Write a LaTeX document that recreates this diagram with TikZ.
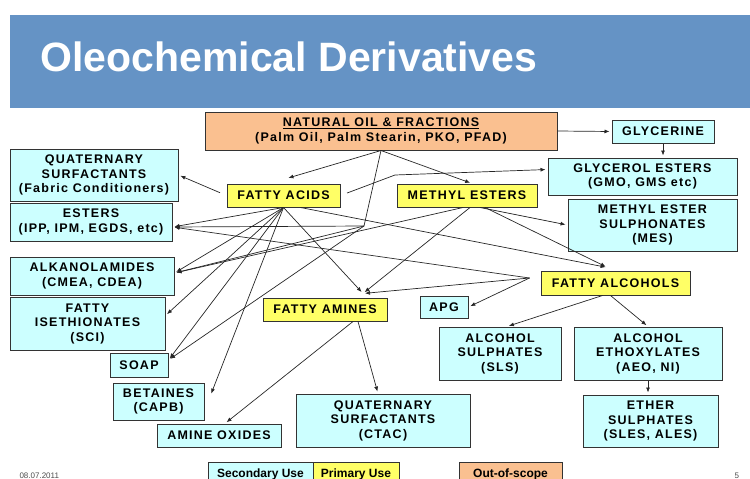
\documentclass[tikz,border=0pt]{standalone}
\usepackage{fontspec}
\setmainfont{Liberation Sans}
\newfontfamily\boxfont[LetterSpace=10]{Liberation Sans}
\usetikzlibrary{arrows.meta}
\definecolor{band}{HTML}{6593C5}
\definecolor{secuse}{HTML}{CCFFFF}
\definecolor{primuse}{HTML}{FFFF66}
\definecolor{outscope}{HTML}{FAC090}
\begin{document}
\begin{tikzpicture}[x=1pt,y=-1pt,>={Latex[length=5pt,width=4pt]},
  box/.style={draw=black!80,line width=1pt,inner sep=0pt,align=center,
    font=\boxfont\bfseries\fontsize{12.5}{14.5}\selectfont},
  sec/.style={box,fill=secuse},
  prim/.style={box,fill=primuse},
  oos/.style={box,fill=outscope},
  legend/.style={draw=black!80,line width=1pt,inner sep=0pt,
    font=\bfseries\fontsize{12}{12}\selectfont},
  flow/.style={draw=black!85,line width=0.7pt,->,shorten >=2pt}]

\useasboundingbox (0,0) rectangle (750,479);

%title band
\fill[band] (10,15) rectangle (750,108);
\node[anchor=base west,text=white,font=\bfseries\fontsize{41}{41}\selectfont] (title) at (37,71) {Oleochemical Derivatives};

%sources
\node[oos,minimum width=352pt,minimum height=38pt] (oil) at (381,131) {\underline{NATURAL OIL \& FRACTIONS}\\(Palm Oil, Palm Stearin, PKO, PFAD)};
\node[prim,minimum width=113pt,minimum height=23pt] (fatacid) at (283.5,195.5) {FATTY ACIDS};
\node[prim,minimum width=140pt,minimum height=23pt] (mester) at (467,195.5) {METHYL ESTERS};
\node[prim,minimum width=124pt,minimum height=23pt] (fatamine) at (325,309.5) {FATTY AMINES};
\node[prim,minimum width=149pt,minimum height=24pt] (fatalc) at (615.5,283) {FATTY ALCOHOLS};

%right column
\node[sec,minimum width=102pt,minimum height=23pt] (glycerine) at (663,131.5) {GLYCERINE};
\node[sec,minimum width=189pt,minimum height=37pt] (glyest) at (642.5,176.5) {GLYCEROL ESTERS\\(GMO, GMS etc)};
\node[sec,minimum width=169pt,minimum height=52pt] (mes) at (652.5,225) {METHYL ESTER\\SULPHONATES\\(MES)};

%left column
\node[sec,minimum width=168pt,minimum height=52pt] (quatfab) at (94,175) {QUATERNARY\\SURFACTANTS\\(Fabric Conditioners)};
\node[sec,minimum width=162pt,minimum height=38pt] (esters) at (91,222) {ESTERS\\(IPP, IPM, EGDS, etc)};
\node[sec,minimum width=164pt,minimum height=38pt] (alkanol) at (92,276) {ALKANOLAMIDES\\(CMEA, CDEA)};
\node[sec,minimum width=155pt,minimum height=53pt] (iseth) at (87.5,323.5) {FATTY\\ISETHIONATES\\(SCI)};
\node[sec,minimum width=58pt,minimum height=24pt] (soap) at (139,365) {SOAP};
\node[sec,minimum width=91pt,minimum height=37pt] (betaines) at (158.5,401.5) {BETAINES\\(CAPB)};
\node[sec,minimum width=124pt,minimum height=23pt] (amox) at (219,435.5) {AMINE OXIDES};

%bottom row
\node[sec,minimum width=174pt,minimum height=53pt] (quatctac) at (383,420.5) {QUATERNARY\\SURFACTANTS\\(CTAC)};
\node[sec,minimum width=48pt,minimum height=22pt] (apg) at (444,307) {APG};
\node[sec,minimum width=122pt,minimum height=53pt] (alcsul) at (500,353.5) {ALCOHOL\\SULPHATES\\(SLS)};
\node[sec,minimum width=148pt,minimum height=53pt] (aeo) at (648,353.5) {ALCOHOL\\ETHOXYLATES\\(AEO, NI)};
\node[sec,minimum width=135pt,minimum height=52pt] (ethsul) at (650.5,421) {ETHER\\SULPHATES\\(SLES, ALES)};

%legend
\node[legend,fill=secuse,minimum width=105pt,minimum height=24pt] (legsec) at (260.5,474) {Secondary Use};
\node[legend,fill=primuse,minimum width=86pt,minimum height=24pt] (legprim) at (356,474) {Primary Use};
\node[legend,fill=outscope,minimum width=103pt,minimum height=24pt] (legoos) at (510.5,474) {Out-of-scope};
\node[anchor=base west,text=black!70,font=\fontsize{8}{8}\selectfont] (date) at (16,478) {08.07.2011};
\node[anchor=base west,text=black!70,font=\fontsize{8}{8}\selectfont] (pgno) at (731,478) {5};

%hubs and arrow ends
\coordinate (oilhub) at (364,226);
\coordinate (glyhub) at (395,175);
\coordinate (aminein) at ([xshift=38pt,yshift=4pt]fatamine.north);
\coordinate (alcin) at ([xshift=-8pt,yshift=3pt]fatalc.north);
\coordinate (alchub) at ([xshift=-11pt,yshift=5pt]fatalc.west);

%NATURAL OIL->
\draw[flow] (oil.east) -- (glycerine.west);
\draw[flow] (oil.south) -- ([xshift=3pt,yshift=5pt]fatacid.north);
\draw[flow] (oil.south) -- ([xshift=5pt]mester.north);
\draw[draw=black!85,line width=0.7pt] (oil.south) -- (oilhub);
\draw[flow] (oilhub) -- ([yshift=-5pt]esters.east);
\draw[flow] (oilhub) -- ([yshift=3pt]alkanol.east);
\draw[flow] (oilhub) -- ([yshift=5pt]soap.east);

%GLYCERINE->
\draw[flow] (glycerine.south) -- (glycerine.south |- glyest.north);

%FATTY ACIDS->
\draw[flow,shorten <=7pt] (fatacid.west) -- (quatfab.east);
\draw[flow,shorten <=7pt] (fatacid.east) -- (glyhub) -- ([yshift=7pt]glyest.west);
\draw[flow] (fatacid.south) -- ([yshift=-5pt]esters.east);
\draw[flow] (fatacid.south) -- ([yshift=3pt]alkanol.east);
\draw[flow] (fatacid.south) -- ([yshift=8pt]iseth.east);
\draw[flow] (fatacid.south) -- ([yshift=5pt]soap.east);
\draw[flow] (fatacid.south) -- ([xshift=6pt,yshift=6pt]betaines.east);
\draw[flow] (fatacid.south) -- (aminein);
\draw[flow] ([xshift=17pt]fatacid.south) -- (alcin);

%METHYL ESTERS->
\draw[flow] ([xshift=13pt]mester.south) -- (mes.west);
\draw[flow] ([xshift=18pt]mester.south) -- (alcin);
\draw[flow] ([xshift=3pt]mester.south) -- (aminein);
\draw[flow] ([xshift=-4pt]mester.south) -- ([yshift=3pt]alkanol.east);

%FATTY ALCOHOLS->
\draw[flow] (alchub) -- ([yshift=-5pt]esters.east);
\draw[flow] (alchub) -- (aminein);
\draw[flow] (alchub) -- (apg.east);
\draw[flow] ([xshift=-13pt]fatalc.south) -- ([xshift=7pt]alcsul.north);
\draw[flow] ([xshift=-5pt]fatalc.south) -- (aeo.north);
\draw[flow] (aeo.south) -- (aeo.south |- ethsul.north);

%FATTY AMINES->
\draw[flow] ([xshift=28pt]fatamine.south) -- ([xshift=6pt]amox.north);
\draw[flow] ([xshift=33pt]fatamine.south) -- ([xshift=-5pt]quatctac.north);

\end{tikzpicture}
\end{document}
